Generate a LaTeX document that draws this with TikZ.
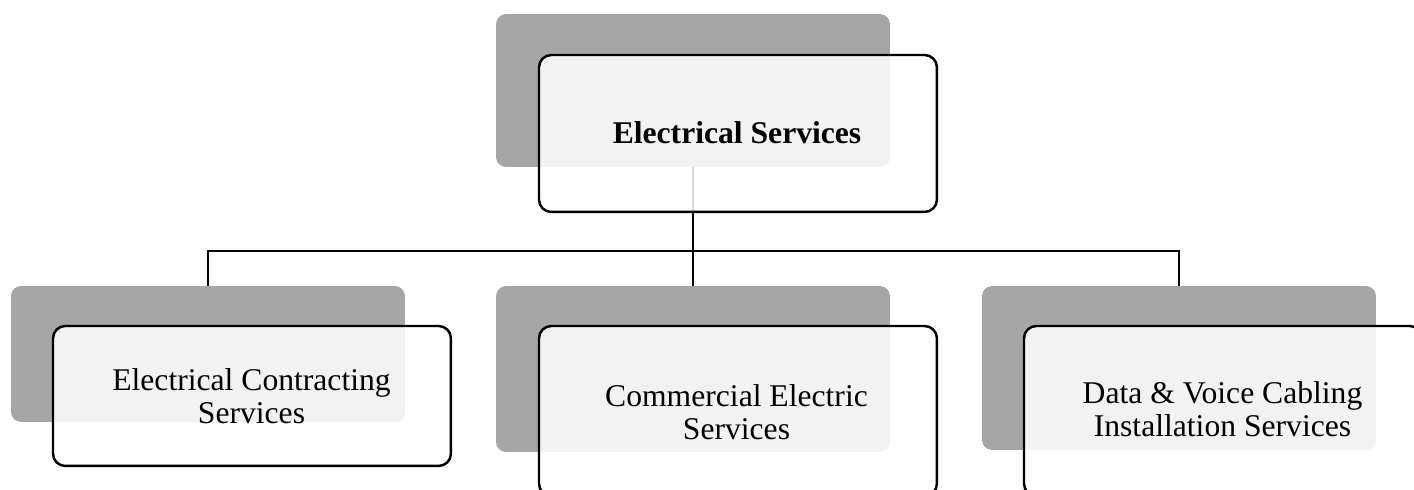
\documentclass[tikz,border=0pt]{standalone}
\usepackage{fontspec}
\setmainfont{Liberation Serif}
\usepackage{tikz}
\usepackage{xcolor}
\definecolor{backgray}{HTML}{A6A6A6}

\begin{document}
\begin{tikzpicture}[x=0.02cm, y=-0.02cm,
        back/.style={fill=backgray, rounded corners=5.7pt, anchor=north west, inner sep=0pt, outer sep=0pt, minimum width=7.88cm},
        front/.style={draw=black, line width=1.4pt, fill=white, fill opacity=0.855, rounded corners=7pt, anchor=north west, inner sep=0pt, outer sep=0pt, minimum width=7.96cm},
        label/.style={font=\fontsize{18}{18.6}\selectfont, align=center, inner sep=0pt},
        wire/.style={black, line width=1.1pt}]
                \useasboundingbox (0,0) rectangle (1414,490);
                \clip (0,0) rectangle (1414,490);
                % grey back boxes
                \node[back, minimum height=3.06cm] (topback) at (496,14) {};
                \node[back, minimum height=2.72cm] (leftback) at (11,286) {};
                \node[back, minimum height=3.32cm] (midback) at (496,286) {};
                \node[back, minimum height=3.28cm] (rightback) at (982,286) {};
                % connectors
                \coordinate (bus) at (693,251);
                \draw[wire] (topback.south) -- (bus);
                \draw[wire] (leftback.north) |- (bus);
                \draw[wire] (rightback.north) |- (bus);
                \draw[wire] (midback.north) -- (bus);
                % front boxes
                \node[front, minimum height=3.14cm] (topfront) at (539,55) {};
                \node[front, minimum height=2.8cm] (leftfront) at (53,326) {};
                \node[front, minimum height=3.4cm] (midfront) at (539,326) {};
                \node[front, minimum height=3.4cm] (rightfront) at (1024,326) {};
                % texts
                \node[label, anchor=base, font=\fontsize{18}{18}\selectfont\bfseries] (toptext) at (737,143) {Electrical Services};
                \node[label] (lefttext) at (251.5,396) {Electrical Contracting\\Services};
                \node[label] (midtext) at (736.5,412) {Commercial Electric\\Services};
                \node[label] (righttext) at (1222.5,409) {Data \& Voice Cabling\\Installation Services};
            \end{tikzpicture}
\end{document}
